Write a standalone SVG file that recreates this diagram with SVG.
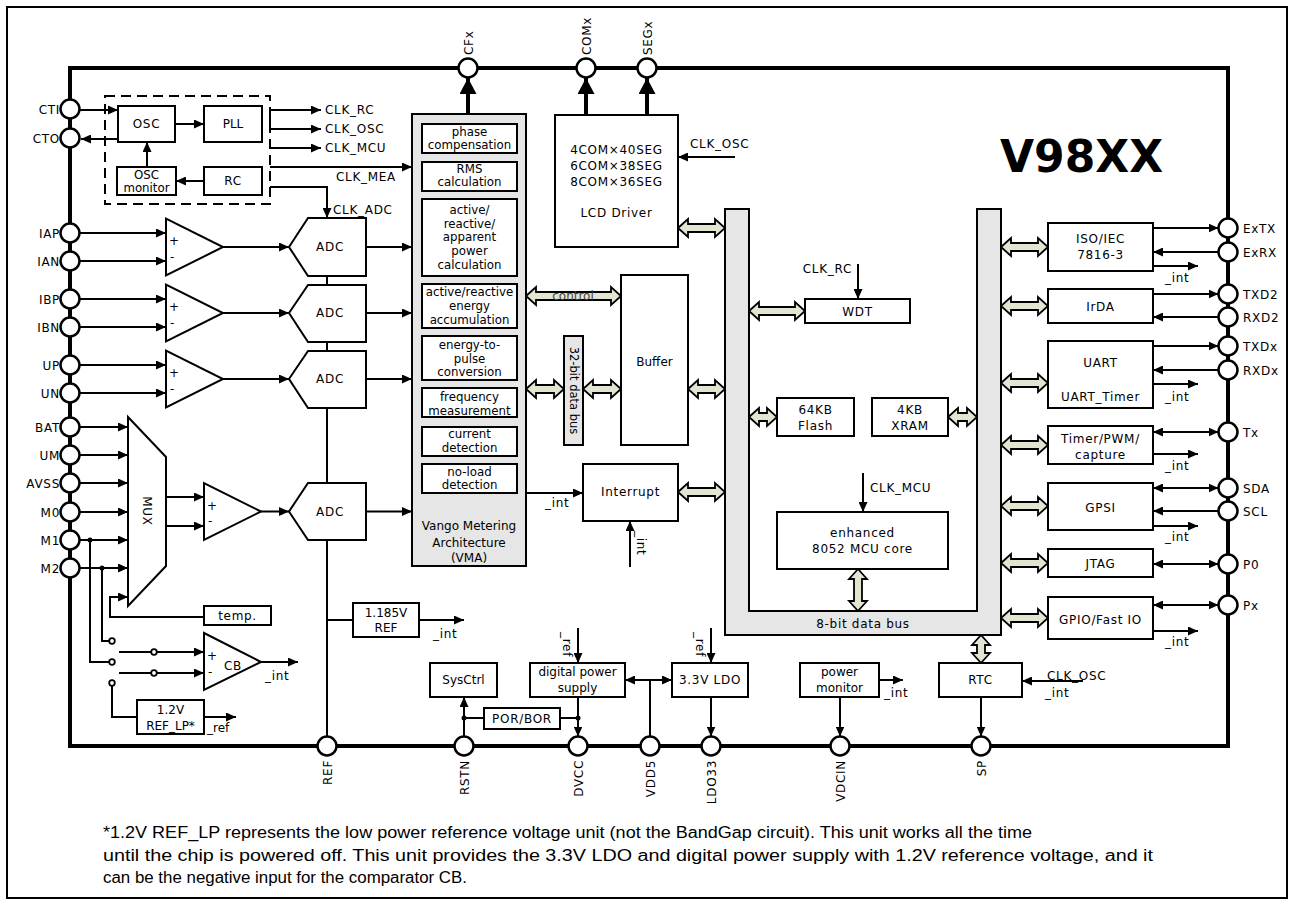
<svg xmlns="http://www.w3.org/2000/svg" width="1295" height="906" viewBox="0 0 1295 906">
<style>
text{font-family:"DejaVu Sans",Verdana,sans-serif;font-size:12px;fill:#000}
.m{text-anchor:middle}
.e{text-anchor:end}
.s{font-size:11.8px}
.ls{letter-spacing:0.7px}
.box{fill:#fff;stroke:#000;stroke-width:2}
.ln{fill:none;stroke:#000;stroke-width:2}
.ar{fill:none;stroke:#000;stroke-width:2;marker-end:url(#ah)}
.dar{fill:none;stroke:#000;stroke-width:2;marker-end:url(#ah);marker-start:url(#ah)}
.big{fill:none;stroke:#000;stroke-width:4;marker-end:url(#bh)}
.pin{fill:#fff;stroke:#000;stroke-width:2.5}
.fat{fill:#e2e5d1;stroke:#000;stroke-width:1.8;stroke-linejoin:miter}
.gray{fill:#e6e6e6;stroke:#000;stroke-width:2}
.ft{font-family:"Liberation Sans",Arial,sans-serif;font-size:16px}
</style>
<defs>
<marker id="ah" viewBox="0 0 10 9" refX="10" refY="4.5" markerWidth="10" markerHeight="9" markerUnits="userSpaceOnUse" orient="auto-start-reverse"><path d="M0,0 L10,4.5 L0,9 z"/></marker>
<marker id="bh" viewBox="0 0 16 17" refX="16" refY="8.5" markerWidth="16" markerHeight="17" markerUnits="userSpaceOnUse" orient="auto"><path d="M0,0 L16,8.5 L0,17 z"/></marker>
</defs>
<rect x="0" y="0" width="1295" height="906" fill="#fff"/>
<rect x="7" y="7" width="1280" height="891" fill="none" stroke="#000" stroke-width="2"/>
<g id="chip"><rect x="70" y="68" width="1158" height="678" fill="none" stroke="#000" stroke-width="4"/></g>
<g id="title"><text x="1000" y="172" style="font-size:44px;font-weight:bold">V98XX</text></g>

<g id="connectors">
<path class="ar" d="M80,110 H118"/>
<path class="ar" d="M118,139 H81"/>
<path class="ar" d="M175,124 H204"/>
<path class="ar" d="M147,167 V142"/>
<path class="ar" d="M204,181 H176"/>
<path class="ln" d="M270,110 V129"/>
<path class="ar" d="M270,110 H321"/>
<path class="ar" d="M270,129 H321"/>
<path class="ar" d="M270,148 H321"/>
<path class="ar" d="M270,167 H412"/>
<path class="ar" d="M270,187 H327 V218"/>
<path class="ar" d="M80,233 H166"/>
<path class="ar" d="M80,261 H166"/>
<path class="ar" d="M80,299 H166"/>
<path class="ar" d="M80,327 H166"/>
<path class="ar" d="M80,365 H166"/>
<path class="ar" d="M80,393 H166"/>
<path class="ar" d="M223,247 H289"/>
<path class="ar" d="M223,313 H289"/>
<path class="ar" d="M223,379 H289"/>
<path class="ar" d="M261,511.5 H289"/>
<path class="ar" d="M366,247 H412"/>
<path class="ar" d="M366,313 H412"/>
<path class="ar" d="M366,379 H412"/>
<path class="ar" d="M366,511.5 H412"/>
<path class="ln" d="M327,218 V737"/>
<path class="ar" d="M80,427 H128"/>
<path class="ar" d="M80,455 H128"/>
<path class="ar" d="M80,483 H128"/>
<path class="ar" d="M80,512 H128"/>
<path class="ar" d="M80,540 H128"/>
<path class="ar" d="M80,568 H128"/>
<path class="ar" d="M204,617 H110 V597 H128"/>
<path class="ar" d="M166,497 H204"/>
<path class="ar" d="M166,526 H204"/>
<circle cx="90" cy="540" r="2.5"/>
<circle cx="102" cy="568" r="2.5"/>
<path class="ln" d="M90,540 V662 H109.5"/>
<path class="ln" d="M102,568 V641 H109.5"/>
<path class="ln" d="M112,685.5 V717 H137"/>
<path class="ln" d="M119,652 H151.5"/>
<path class="ln" d="M119,673 H151.5"/>
<path class="ar" d="M156.5,652 H204"/>
<path class="ar" d="M156.5,673 H204"/>
<circle cx="112" cy="641" r="2.8" fill="#fff" stroke="#000" stroke-width="1.8"/>
<circle cx="112" cy="662" r="2.8" fill="#fff" stroke="#000" stroke-width="1.8"/>
<circle cx="112" cy="683" r="2.8" fill="#fff" stroke="#000" stroke-width="1.8"/>
<circle cx="154" cy="652" r="2.8" fill="#fff" stroke="#000" stroke-width="1.8"/>
<circle cx="154" cy="673" r="2.8" fill="#fff" stroke="#000" stroke-width="1.8"/>
<path class="ar" d="M261,662 H298"/>
<path class="ar" d="M204,717 H236"/>
<path class="ln" d="M327,620 H353"/>
<path class="ar" d="M419,620 H464"/>
<path class="big" d="M468,114 V78"/>
<path class="big" d="M586,115 V78"/>
<path class="big" d="M647,115 V78"/>
<path class="ar" d="M735,157 H678"/>
<path class="ar" d="M526,493 H583"/>
<path class="ar" d="M630,567 V521"/>
<path class="ar" d="M858,264 V299"/>
<path class="ar" d="M863,473 V512"/>
<path class="ar" d="M1153,228 H1218.5"/>
<path class="ar" d="M1218.5,252 H1153"/>
<path class="ar" d="M1153,266 H1198"/>
<path class="ar" d="M1153,294 H1218.5"/>
<path class="ar" d="M1218.5,317 H1153"/>
<path class="ar" d="M1153,346 H1218.5"/>
<path class="ar" d="M1218.5,370 H1153"/>
<path class="ar" d="M1048,384 H1198"/>
<path class="dar" d="M1153,432 H1218.5"/>
<path class="ar" d="M1153,454 H1198"/>
<path class="dar" d="M1153,488 H1218.5"/>
<path class="ar" d="M1218.5,511 H1153"/>
<path class="ar" d="M1153,526 H1198"/>
<path class="dar" d="M1153,564 H1218.5"/>
<path class="dar" d="M1153,605 H1218.5"/>
<path class="ar" d="M1153,631 H1198"/>
<path class="ar" d="M464,736.5 V697"/>
<circle cx="464" cy="718" r="2.5"/>
<path class="ln" d="M464,718 H484"/>
<path class="ln" d="M560,718 H578"/>
<circle cx="578" cy="718" r="2.5"/>
<path class="ar" d="M578,628 V663"/>
<path class="ar" d="M578,697 V736.5"/>
<path class="ln" d="M650,736.5 V680"/>
<path class="dar" d="M625,680 H672"/>
<path class="ar" d="M711,628 V663"/>
<path class="ar" d="M711,697 V736.5"/>
<path class="ar" d="M879,680 H903"/>
<path class="ar" d="M840,697 V736.5"/>
<path class="ar" d="M1083,681 H1022"/>
<path class="ar" d="M981,697 V736.5"/>
<polygon class="fat" points="678,228 688,219 688,224 715,224 715,219 725,228 715,237 715,232 688,232 688,237"/>
<polygon class="fat" points="526,296 536,287 536,292 611,292 611,287 621,296 611,305 611,300 536,300 536,305"/>
<polygon class="fat" points="526,389 536,380 536,385 554,385 554,380 564,389 554,398 554,393 536,393 536,398"/>
<polygon class="fat" points="583,389 593,380 593,385 611,385 611,380 621,389 611,398 611,393 593,393 593,398"/>
<polygon class="fat" points="688,389 698,380 698,385 715,385 715,380 725,389 715,398 715,393 698,393 698,398"/>
<polygon class="fat" points="678,492 688,483 688,488 715,488 715,483 725,492 715,501 715,496 688,496 688,501"/>
<polygon class="fat" points="749,311 759,302 759,307 795,307 795,302 805,311 795,320 795,315 759,315 759,320"/>
<polygon class="fat" points="749,417 759,408 759,413 767,413 767,408 777,417 767,426 767,421 759,421 759,426"/>
<polygon class="fat" points="948,417 958,408 958,413 967,413 967,408 977,417 967,426 967,421 958,421 958,426"/>
<polygon class="fat" points="1001,247 1011,238 1011,243 1038,243 1038,238 1048,247 1038,256 1038,251 1011,251 1011,256"/>
<polygon class="fat" points="1001,306 1011,297 1011,302 1038,302 1038,297 1048,306 1038,315 1038,310 1011,310 1011,315"/>
<polygon class="fat" points="1001,383 1011,374 1011,379 1038,379 1038,374 1048,383 1038,392 1038,387 1011,387 1011,392"/>
<polygon class="fat" points="1001,445 1011,436 1011,441 1038,441 1038,436 1048,445 1038,454 1038,449 1011,449 1011,454"/>
<polygon class="fat" points="1001,506 1011,497 1011,502 1038,502 1038,497 1048,506 1038,515 1038,510 1011,510 1011,515"/>
<polygon class="fat" points="1001,563 1011,554 1011,559 1038,559 1038,554 1048,563 1038,572 1038,567 1011,567 1011,572"/>
<polygon class="fat" points="1001,618 1011,609 1011,614 1038,614 1038,609 1048,618 1038,627 1038,622 1011,622 1011,627"/>
<polygon class="fat" points="858,569 849,579 854,579 854,601 849,601 858,611 867,601 862,601 862,579 867,579"/>
<polygon class="fat" points="981,635 972,645 977,645 977,653 972,653 981,663 990,653 985,653 985,645 990,645"/>
</g>

<g id="clock-labels" class="ls">
<text x="325" y="114">CLK_RC</text>
<text x="325" y="133">CLK_OSC</text>
<text x="325" y="152">CLK_MCU</text>
<text x="336" y="181">CLK_MEA</text>
<text x="333" y="214">CLK_ADC</text>
</g>
<g id="clk-block"><rect x="105" y="96" width="165" height="108" fill="none" stroke="#000" stroke-width="2" stroke-dasharray="10,6"/></g>
<g id="osc"><rect class="box" x="118" y="106" width="57" height="36"/><text class="m ls" x="146.5" y="128">OSC</text></g>
<g id="pll"><rect class="box" x="204" y="106" width="58" height="36"/><text class="m" x="233" y="128">PLL</text></g>
<g id="oscmon"><rect class="box" x="117" y="167" width="59" height="28"/><text class="m s" x="146.5" y="179">OSC</text><text class="m s" x="146.5" y="192">monitor</text></g>
<g id="rc"><rect class="box" x="204" y="167" width="58" height="28"/><text class="m ls" x="233" y="185">RC</text></g>

<g id="amp1"><polygon class="box" points="166,218.5 166,275.5 223,247"/><text x="169" y="245">+</text><text x="170" y="261">-</text></g>
<g id="amp2"><polygon class="box" points="166,284.5 166,341.5 223,313"/><text x="169" y="311">+</text><text x="170" y="327">-</text></g>
<g id="amp3"><polygon class="box" points="166,350.5 166,407.5 223,379"/><text x="169" y="377">+</text><text x="170" y="393">-</text></g>
<g id="amp4"><polygon class="box" points="204,483 204,540 261,511.5"/><text x="207" y="510">+</text><text x="208" y="525">-</text></g>
<g id="adc1"><polygon class="box" points="289,247 308,218 366,218 366,276 308,276"/><text class="m ls" x="330" y="251">ADC</text></g>
<g id="adc2"><polygon class="box" points="289,313 308,285 366,285 366,342 308,342"/><text class="m ls" x="330" y="317">ADC</text></g>
<g id="adc3"><polygon class="box" points="289,379 308,351 366,351 366,408 308,408"/><text class="m ls" x="330" y="383">ADC</text></g>
<g id="adc4"><polygon class="box" points="289,511.5 308,483 366,483 366,540 308,540"/><text class="m ls" x="330" y="516">ADC</text></g>
<g id="mux"><polygon class="box" points="128,417 166,457 166,566 128,606"/><text class="m ls" transform="translate(143,511) rotate(90)">MUX</text></g>
<g id="cb"><polygon class="box" points="204,633 204,690 261,662"/><text x="207" y="660">+</text><text x="208" y="676">-</text><text x="224" y="670" class="ls">CB</text><text x="265" y="680" class="ls">_int</text></g>
<g id="temp"><rect class="box" x="204" y="606" width="67" height="19"/><text class="m ls" x="237.5" y="620">temp.</text></g>
<g id="reflp"><rect class="box" x="137" y="700" width="67" height="34"/><text class="m" x="170.5" y="714">1.2V</text><text class="m" x="170.5" y="730">REF_LP*</text><text x="207" y="732">_ref</text></g>
<g id="ref1185"><rect class="box" x="353" y="603" width="66" height="34"/><text class="m" x="386" y="617">1.185V</text><text class="m" x="386" y="632">REF</text><text x="433" y="638" class="ls">_int</text></g>

<g id="vma">
<rect class="gray" x="412" y="114" width="114" height="452"/>
<rect class="box" x="422" y="124" width="95" height="29"/><text class="m s" x="469.5" y="136">phase</text><text class="m s" x="469.5" y="148.5">compensation</text>
<rect class="box" x="422" y="162" width="95" height="29"/><text class="m s" x="469.5" y="172.5">RMS</text><text class="m s" x="469.5" y="186">calculation</text>
<rect class="box" x="422" y="199" width="95" height="77"/><text class="m s" x="469.5" y="214">active/</text><text class="m s" x="469.5" y="227.5">reactive/</text><text class="m s" x="469.5" y="241">apparent</text><text class="m s" x="469.5" y="255">power</text><text class="m s" x="469.5" y="269">calculation</text>
<rect class="box" x="422" y="284" width="95" height="44"/><text class="m s" x="469.5" y="296">active/reactive</text><text class="m s" x="469.5" y="310">energy</text><text class="m s" x="469.5" y="324">accumulation</text>
<rect class="box" x="422" y="336" width="95" height="44"/><text class="m s" x="469.5" y="349">energy-to-</text><text class="m s" x="469.5" y="363">pulse</text><text class="m s" x="469.5" y="376">conversion</text>
<rect class="box" x="422" y="388" width="95" height="29"/><text class="m s" x="469.5" y="401">frequency</text><text class="m s" x="469.5" y="414.5">measurement</text>
<rect class="box" x="422" y="427" width="95" height="29"/><text class="m s" x="469.5" y="438">current</text><text class="m s" x="469.5" y="452">detection</text>
<rect class="box" x="422" y="464" width="95" height="29"/><text class="m s" x="469.5" y="476">no-load</text><text class="m s" x="469.5" y="489">detection</text>
<text class="m" x="469" y="530">Vango Metering</text><text class="m" x="469" y="546.5">Architecture</text><text class="m" x="469" y="562">(VMA)</text>
</g>
<g id="ctrl-label"><text class="m" x="573" y="300" style="fill:#444">control</text></g>
<g id="bus32"><rect class="gray" x="564" y="336" width="19" height="109"/><text class="m" style="font-size:11.5px" transform="translate(569.5,390.5) rotate(90)">32-bit data bus</text></g>
<g id="buffer"><rect class="box" x="621" y="275" width="67" height="170"/><text class="m" x="654.5" y="366">Buffer</text></g>
<g id="interrupt"><rect class="box" x="583" y="464" width="95" height="57"/><text class="m ls" x="630.5" y="496">Interrupt</text><text x="545" y="507" class="ls">_int</text><text class="ls" transform="translate(637,531) rotate(90)">_int</text></g>
<g id="lcd"><rect class="box" x="555" y="115" width="123" height="132"/><text class="m ls" x="616.5" y="154">4COM×40SEG</text><text class="m ls" x="616.5" y="170">6COM×38SEG</text><text class="m ls" x="616.5" y="186">8COM×36SEG</text><text class="m ls" x="616.5" y="217">LCD Driver</text><text x="690" y="148" class="ls">CLK_OSC</text></g>

<g id="bus8"><path class="gray" d="M725,209 H749 V611 H977 V209 H1001 V635 H725 Z"/><text class="m ls" x="863" y="628">8-bit data bus</text></g>
<g id="wdt"><rect class="box" x="805" y="299" width="105" height="24"/><text class="m ls" x="857.5" y="315.5">WDT</text><text class="e ls" x="852" y="273">CLK_RC</text></g>
<g id="flash"><rect class="box" x="777" y="398" width="77" height="38"/><text class="m ls" x="815.5" y="414">64KB</text><text class="m ls" x="815.5" y="430">Flash</text></g>
<g id="xram"><rect class="box" x="872" y="398" width="76" height="38"/><text class="m ls" x="910" y="414">4KB</text><text class="m ls" x="910" y="430">XRAM</text></g>
<g id="mcu"><rect class="box" x="777" y="512" width="171" height="57"/><text class="m ls" x="862.5" y="537">enhanced</text><text class="m ls" x="862.5" y="553">8052 MCU core</text><text x="870" y="492" class="ls">CLK_MCU</text></g>

<g id="iso"><rect class="box" x="1048" y="223" width="105" height="48"/><text class="m ls" x="1100.5" y="243">ISO/IEC</text><text class="m ls" x="1100.5" y="259">7816-3</text><text x="1165" y="282" class="ls">_int</text></g>
<g id="irda"><rect class="box" x="1048" y="289" width="105" height="34"/><text class="m ls" x="1100.5" y="311">IrDA</text></g>
<g id="uart"><rect class="box" x="1048" y="341" width="105" height="67"/><text class="m ls" x="1100.5" y="367">UART</text><text class="m ls" x="1100.5" y="401">UART_Timer</text><text x="1165" y="401" class="ls">_int</text></g>
<g id="timer"><rect class="box" x="1048" y="426" width="105" height="38"/><text class="m ls" x="1100.5" y="443">Timer/PWM/</text><text class="m ls" x="1100.5" y="459">capture</text><text x="1165" y="470" class="ls">_int</text></g>
<g id="gpsi"><rect class="box" x="1048" y="483" width="105" height="47"/><text class="m ls" x="1100.5" y="511.5">GPSI</text><text x="1165" y="541" class="ls">_int</text></g>
<g id="jtag"><rect class="box" x="1048" y="549" width="105" height="28"/><text class="m ls" x="1100.5" y="568">JTAG</text></g>
<g id="gpio"><rect class="box" x="1048" y="597" width="105" height="42"/><text class="m ls" x="1100.5" y="623.5">GPIO/Fast IO</text><text x="1165" y="646" class="ls">_int</text></g>

<g id="sysctrl"><rect class="box" x="430" y="663" width="67" height="34"/><text class="m" x="463.5" y="684">SysCtrl</text></g>
<g id="porbor"><rect class="box" x="484" y="708" width="76" height="21"/><text class="m ls" x="522" y="723">POR/BOR</text></g>
<g id="dps"><rect class="box" x="530" y="663" width="95" height="34"/><text class="m" x="577.5" y="676">digital power</text><text class="m" x="577.5" y="692">supply</text><text class="ls" transform="translate(563,632) rotate(90)">_ref</text></g>
<g id="ldo"><rect class="box" x="672" y="663" width="76" height="34"/><text class="m ls" x="710" y="684">3.3V LDO</text><text class="ls" transform="translate(696,632) rotate(90)">_ref</text></g>
<g id="pwrmon"><rect class="box" x="800" y="663" width="79" height="34"/><text class="m" x="839.5" y="676">power</text><text class="m" x="839.5" y="692">monitor</text><text x="884" y="697" class="ls">_int</text></g>
<g id="rtc"><rect class="box" x="939" y="663" width="83" height="34"/><text class="m ls" x="980.5" y="684">RTC</text><text x="1047" y="680" class="ls">CLK_OSC</text><text x="1045" y="697" class="ls">_int</text></g>

<g id="pins">
<circle class="pin" cx="70" cy="109" r="9.5"/><circle class="pin" cx="70" cy="138" r="9.5"/>
<circle class="pin" cx="70" cy="233" r="9.5"/><circle class="pin" cx="70" cy="261" r="9.5"/>
<circle class="pin" cx="70" cy="299" r="9.5"/><circle class="pin" cx="70" cy="327" r="9.5"/>
<circle class="pin" cx="70" cy="365" r="9.5"/><circle class="pin" cx="70" cy="393" r="9.5"/>
<circle class="pin" cx="70" cy="427" r="9.5"/><circle class="pin" cx="70" cy="455" r="9.5"/>
<circle class="pin" cx="70" cy="483" r="9.5"/><circle class="pin" cx="70" cy="512" r="9.5"/>
<circle class="pin" cx="70" cy="540" r="9.5"/><circle class="pin" cx="70" cy="568" r="9.5"/>
<circle class="pin" cx="468" cy="68" r="9.5"/><circle class="pin" cx="586" cy="68" r="9.5"/><circle class="pin" cx="647" cy="68" r="9.5"/>
<circle class="pin" cx="1228" cy="228" r="9.5"/><circle class="pin" cx="1228" cy="252" r="9.5"/>
<circle class="pin" cx="1228" cy="294" r="9.5"/><circle class="pin" cx="1228" cy="317" r="9.5"/>
<circle class="pin" cx="1228" cy="346" r="9.5"/><circle class="pin" cx="1228" cy="370" r="9.5"/>
<circle class="pin" cx="1228" cy="432" r="9.5"/><circle class="pin" cx="1228" cy="488" r="9.5"/>
<circle class="pin" cx="1228" cy="511" r="9.5"/><circle class="pin" cx="1228" cy="564" r="9.5"/>
<circle class="pin" cx="1228" cy="605" r="9.5"/>
<circle class="pin" cx="327" cy="746" r="9.5"/><circle class="pin" cx="464" cy="746" r="9.5"/>
<circle class="pin" cx="578" cy="746" r="9.5"/><circle class="pin" cx="650" cy="746" r="9.5"/>
<circle class="pin" cx="711" cy="746" r="9.5"/><circle class="pin" cx="840" cy="746" r="9.5"/>
<circle class="pin" cx="981" cy="746" r="9.5"/>
</g>
<g id="pin-labels" class="ls">
<text class="e" x="60" y="113.5">CTI</text><text class="e" x="60" y="142.5">CTO</text>
<text class="e" x="60" y="237.5">IAP</text><text class="e" x="60" y="265.5">IAN</text>
<text class="e" x="60" y="303.5">IBP</text><text class="e" x="60" y="331.5">IBN</text>
<text class="e" x="60" y="369.5">UP</text><text class="e" x="60" y="397.5">UN</text>
<text class="e" x="60" y="431.5">BAT</text><text class="e" x="60" y="459.5">UM</text>
<text class="e" x="60" y="487.5">AVSS</text><text class="e" x="60" y="516.5">M0</text>
<text class="e" x="60" y="544.5">M1</text><text class="e" x="60" y="572.5">M2</text>
<text transform="translate(472.5,55) rotate(-90)">CFx</text>
<text transform="translate(590.5,55) rotate(-90)">COMx</text>
<text transform="translate(651.5,55) rotate(-90)">SEGx</text>
<text x="1243" y="232.5">ExTX</text><text x="1243" y="256.5">ExRX</text>
<text x="1243" y="298.5">TXD2</text><text x="1243" y="321.5">RXD2</text>
<text x="1243" y="350.5">TXDx</text><text x="1243" y="374.5">RXDx</text>
<text x="1243" y="436.5">Tx</text><text x="1243" y="492.5">SDA</text>
<text x="1243" y="515.5">SCL</text><text x="1243" y="568.5">P0</text>
<text x="1243" y="609.5">Px</text>
<text class="e" transform="translate(331.5,760) rotate(-90)">REF</text>
<text class="e" transform="translate(468.5,760) rotate(-90)">RSTN</text>
<text class="e" transform="translate(582.5,760) rotate(-90)">DVCC</text>
<text class="e" transform="translate(654.5,760) rotate(-90)">VDD5</text>
<text class="e" transform="translate(715.5,760) rotate(-90)">LDO33</text>
<text class="e" transform="translate(844.5,760) rotate(-90)">VDCIN</text>
<text class="e" transform="translate(985.5,760) rotate(-90)">SP</text>
</g>
<g id="footnote">
<text class="ft" x="103" y="838" textLength="929" lengthAdjust="spacingAndGlyphs">*1.2V REF_LP represents the low power reference voltage unit (not the BandGap circuit). This unit works all the time</text>
<text class="ft" x="103" y="861" textLength="1050" lengthAdjust="spacingAndGlyphs">until the chip is powered off. This unit provides the 3.3V LDO and digital power supply with 1.2V reference voltage, and it</text>
<text class="ft" x="103" y="883" textLength="364" lengthAdjust="spacingAndGlyphs">can be the negative input for the comparator CB.</text>
</g>
</svg>
